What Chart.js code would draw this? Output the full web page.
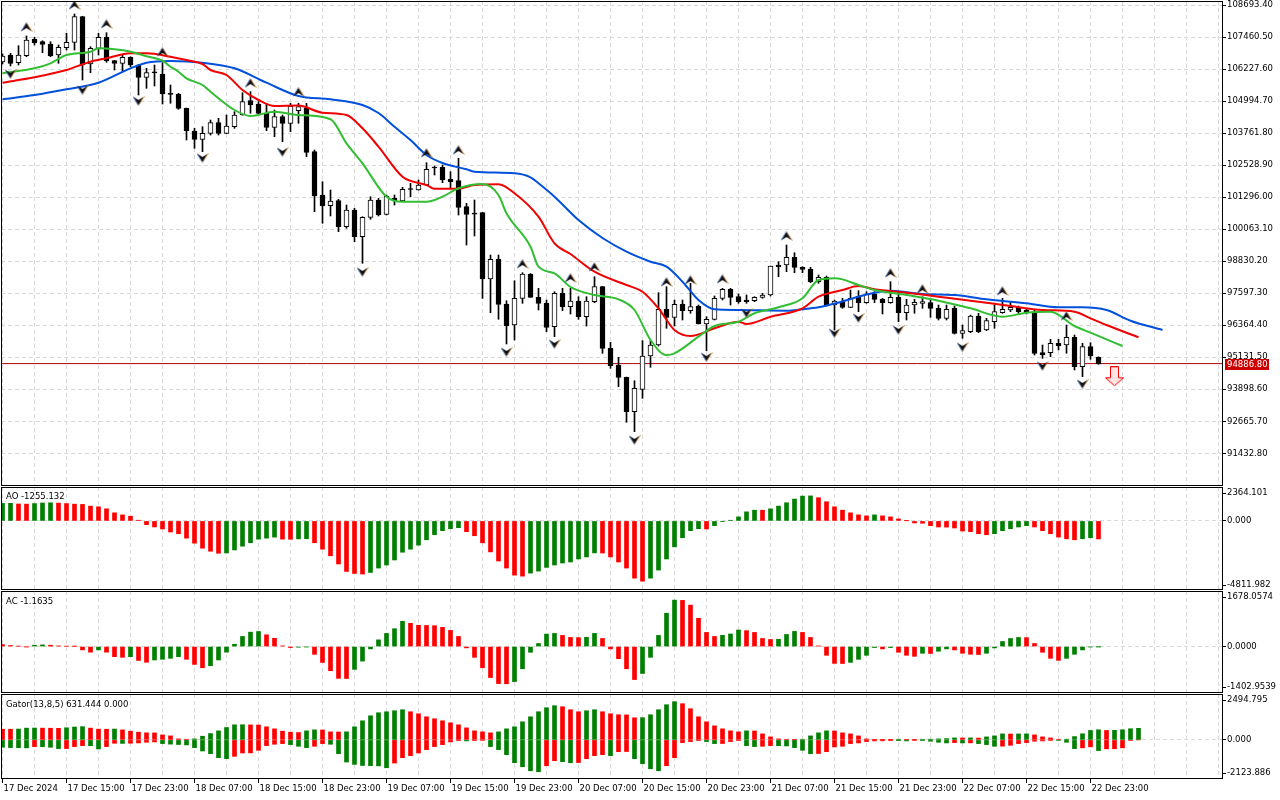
<!DOCTYPE html>
<html>
<head>
<meta charset="utf-8">
<script src="https://cdn.jsdelivr.net/npm/chart.js"></script>
<style>
  body { margin: 0; background: #fff; }
  #wrap { position: relative; width: 1280px; height: 800px; overflow: hidden; background: #fff; }
  canvas { position: absolute; left: 0; }
</style>
</head>
<body>
<div id="wrap">
  <canvas id="main" width="1280" height="486" style="top:0px"></canvas>
  <canvas id="ao" width="1280" height="103" style="top:487px"></canvas>
  <canvas id="ac" width="1280" height="102" style="top:591px"></canvas>
  <canvas id="gator" width="1280" height="106" style="top:694px"></canvas>
</div>
<script>
// BTC H1, 17 Dec 07:00 .. 23 Dec 00:00, one entry per bar
const dateLabels = ['17 Dec 2024', '17 Dec 15:00', '17 Dec 23:00', '18 Dec 07:00', '18 Dec 15:00', '18 Dec 23:00',
  '19 Dec 07:00', '19 Dec 15:00', '19 Dec 23:00', '20 Dec 07:00', '20 Dec 15:00', '20 Dec 23:00',
  '21 Dec 07:00', '21 Dec 15:00', '21 Dec 23:00', '22 Dec 07:00', '22 Dec 15:00', '22 Dec 23:00'];

const priceTicks = [108693.40, 107460.50, 106227.60, 104994.70, 103761.80, 102528.90, 101296.00, 100063.10,
  98830.20, 97597.30, 96364.40, 95131.50, 93898.60, 92665.70, 91432.80];

const candleOpen = [106499,106768,106472,106742,107373,107281,107192,106768,107050,107257,
  108243,106422,107026,107450,106549,106449,106680,106383,105910,106087,
  106037,105255,105255,104716,103842,103523,103754,104162,103754,104008,
  104458,105009,104882,104524,103985,104393,104139,104624,104716,103046,
  101378,100967,101159,100158,100801,99773,100520,101186,100635,101251,
  101147,101598,101571,101763,102445,102445,101983,101929,100928,100647,
  100697,98144,98903,97182,96373,97401,98337,97440,97209,96308,
  97594,97078,97297,96693,97271,97848,95476,94833,94360,93036,
  93898,95180,95603,96978,96670,97170,96924,97105,96412,96593,
  97401,97748,97463,97336,97309,97440,97528,98683,98683,98980,
  98595,98518,98041,98210,97143,97297,97055,97490,97232,97567,
  97363,97232,97440,96847,97143,97209,97232,97016,96631,97016,
  96054,96116,96720,96181,96501,96847,96951,97055,96951,96824,
  95307,95307,95669,95603,95900,94768,95538,95130];

const candleHigh = [106807,106834,107127,107500,107450,107319,107281,107153,107604,108347,
  108260,107088,107604,107627,106560,106768,106703,106395,106256,106383,
  106472,105613,105294,104728,103946,104008,104266,104331,104458,104586,
  105317,105356,104971,104909,104651,104458,104909,104909,104909,103111,
  101891,101571,101213,100993,100866,100543,101313,101251,101378,101378,
  101675,101829,101956,102622,102495,102533,102276,102791,101059,101186,
  100710,99068,99068,97309,98079,98387,98350,97786,97336,97656,
  97786,97786,97463,97463,98233,97860,95707,95130,94370,94229,
  95769,95769,97617,97848,97336,97336,97979,97143,96693,97490,
  97786,97786,97567,97528,97463,97594,98645,98811,99453,99157,
  98620,98595,98298,98260,97336,97401,97721,97694,97656,97656,
  97401,98041,97656,97363,97363,97463,97336,97143,97143,97105,
  96373,96758,96824,96631,97143,97401,97271,97105,96978,96951,
  95603,95823,95823,96373,95988,95669,95692,95150];

const candleLow = [106422,106345,106383,106703,107153,106857,106703,106449,106961,106961,
  105806,106087,106768,106487,106191,106126,106318,105228,105486,105575,
  104882,104909,104678,103496,103176,103046,103688,103688,103740,103946,
  104450,104524,104458,103854,103623,103431,103816,104139,102853,100736,
  100289,100570,99966,100096,99581,98749,100443,100570,100608,100993,
  101121,101313,101565,101755,102148,101852,101636,100608,99453,99800,
  97401,96847,96593,95642,95796,97209,97440,96951,96116,95923,
  96924,96797,96593,96335,97232,95284,94706,93998,92627,92266,
  93551,94745,95565,96246,96335,96566,96824,96412,95384,96566,
  97336,97143,97209,97209,97271,97401,97490,98233,98426,98387,
  98387,98002,97979,97105,96181,97016,97040,96886,97209,97232,
  96797,97209,96501,96566,96824,97016,96670,96566,96566,96027,
  95861,96077,96077,96154,96246,96824,96886,96797,96797,95218,
  95091,95153,95411,95284,94641,94383,95053,94860];

const candleClose = [106730,106449,106768,107346,107242,107180,106730,107065,107257,108243,
  106383,107026,107450,106537,106449,106680,106383,105910,106087,106080,
  105267,105250,104716,103854,103523,103754,104162,103754,104035,104458,
  104971,104843,104524,103985,104393,104139,104805,104778,103022,101340,
  100955,101147,100158,100801,99773,100520,101186,100608,101340,101147,
  101598,101590,101763,102368,102418,101956,101891,100905,100635,100640,
  98144,98903,97170,96335,97401,98337,97440,97209,96285,97594,
  97078,97297,96693,97297,97848,95476,94807,94360,93036,93936,
  95180,95603,96978,96670,97170,96924,97078,96412,96593,97401,
  97748,97440,97271,97271,97440,97528,98645,98618,98980,98595,
  98518,98041,98210,97143,97297,97055,97401,97232,97567,97363,
  97232,97440,96847,97143,97247,97271,97016,96631,96978,96054,
  96154,96720,96116,96539,96886,96978,97055,96886,96847,95284,
  95218,95669,95577,95900,94768,95538,95180,94886.8];

const lastPrice = 94886.80;

// Alligator lines: [bar, price]
const jawLine = [[0,105063],[4,105228],[8,105448],[12,105702],[16,106256],[18,106472],[21,106537],[25,106472],
  [29,106256],[33,105702],[37,105190],[41,105063],[45,104843],[47,104535],[49,104008],[51,103496],[53,102918],
  [55,102610],[58,102368],[59,102276],[64,102214],[66,102060],[67,101829],[69,101313],[72,100416],[75,99723],
  [78,99196],[81,98811],[83,98618],[85,98041],[87,97336],[89,96978],[92,96951],[98,96924],[100,96978],
  [102,97055],[104,97200],[107,97463],[109,97617],[111,97694],[115,97567],[119,97528],[123,97363],[128,97209],
  [132,97055],[135,97055],[138,96951],[141,96539],[145,96181]];
const teethLine = [[0,105702],[4,105910],[8,106191],[11,106511],[13,106641],[16,106834],[18,106834],[21,106703],
  [23,106576],[25,106422],[26,106191],[28,105998],[30,105421],[32,105036],[34,104805],[37,104820],[40,104547],
  [43,104458],[45,103946],[47,103238],[50,102083],[53,101763],[54,101621],[57,101621],[59,101763],[62,101790],
  [64,101444],[67,100543],[69,99519],[71,99107],[74,98426],[78,97913],[80,97656],[82,97016],[84,96181],
  [86,95950],[89,96246],[92,96501],[93,96412],[96,96693],[100,97016],[102,97463],[105,97721],[107,97875],
  [109,97748],[113,97617],[117,97463],[121,97309],[126,97105],[130,96951],[134,96886],[136,96631],[138,96373],
  [142,95900]];
const lipsLine = [[0,106064],[4,106256],[6,106449],[8,106768],[11,106896],[12,107026],[14,106988],[16,106896],
  [18,106720],[20,106549],[21,106318],[22,106126],[23,105871],[25,105614],[26,105356],[29,104651],[31,104420],
  [34,104586],[37,104458],[41,104293],[43,103369],[45,102599],[48,101313],[50,101121],[53,101121],[55,101313],
  [57,101636],[60,101802],[62,101378],[63,100674],[66,99388],[67,98618],[69,98364],[71,97836],[74,97528],
  [77,97363],[79,96951],[81,95796],[83,95218],[84,95284],[87,95923],[89,96335],[92,96501],[94,96824],
  [97,97055],[100,97401],[102,98106],[104,98171],[105,98130],[107,97913],[109,97721],[113,97528],[117,97309],
  [121,97016],[125,96693],[128,96847],[131,96886],[134,96335],[136,96077],[140,95565]];

// Fractal arrows: [bar, price]
const fractalUp = [[3,107846],[9,108693],[13,107962],[20,106884],[31,105690],[37,105344],[53,102995],[57,103111],
  [65,98722],[71,98183],[74,98606],[83,98029],[86,98106],[90,98144],[98,99800],[111,98375],[115,97759],
  [125,97682],[133,96720]];
const fractalDown = [[1,106037],[10,105421],[17,104997],[25,102803],[35,103034],[45,98414],[63,95334],[69,95642],
  [79,91946],[88,95141],[93,96835],[104,96065],[107,96643],[112,96181],[120,95526],[130,94795],[135,94102]];
const sellSignal = [[139,94400]];

const aoValues = [1219,1225,1180,1172,1210,1250,1265,1240,1210,1170,
  1150,1030,985,845,565,420,330,50,-260,-420,
  -560,-770,-890,-1200,-1550,-1900,-2110,-2250,-2230,-2020,
  -1760,-1520,-1270,-1200,-1130,-1270,-1280,-1250,-1240,-1520,
  -1970,-2430,-3000,-3520,-3660,-3700,-3590,-3283,-3072,-2720,
  -2181,-1970,-1688,-1313,-961,-680,-539,-469,-750,-1032,
  -1524,-2157,-2791,-3283,-3776,-3846,-3635,-3494,-3236,-3072,
  -2931,-2861,-2650,-2509,-2228,-2235,-2509,-2861,-3283,-3987,
  -4198,-3987,-3424,-2650,-1806,-1173,-680,-539,-560,-328,
  -47,47,281,633,750,745,844,1032,1266,1524,
  1730,1745,1618,1337,985,750,563,422,352,422,
  352,281,141,10,-140,-160,-328,-422,-430,-492,
  -703,-750,-891,-961,-891,-680,-539,-422,-328,-422,
  -680,-891,-1126,-1243,-1313,-1243,-1173,-1255.132];

const acValues = [60,30,10,-5,40,50,40,20,10,5,
  -100,-170,-100,-170,-305,-325,-305,-420,-475,-405,
  -385,-355,-305,-385,-540,-640,-580,-405,-170,70,
  305,435,455,355,250,20,-30,-20,-10,-235,
  -480,-730,-960,-965,-690,-440,-70,203,397,539,
  763,702,641,636,630,580,488,305,-40,-325,
  -641,-936,-1119,-1125,-1058,-671,-173,92,376,397,
  336,275,270,280,397,244,-71,-366,-671,-997,
  -814,-325,336,1007,1403,1395,1251,854,427,305,
  340,380,500,480,427,244,214,220,366,458,
  427,275,20,-264,-508,-512,-478,-386,-264,-30,
  -71,-30,-173,-264,-295,-203,-210,-142,-71,-102,
  -203,-234,-240,-203,-41,153,244,275,270,92,
  -173,-356,-417,-356,-234,-102,-10,-1.1635];

const gatorUpper = [583,580,590,640,645,640,635,630,660,700,
  720,640,585,580,590,545,475,420,385,380,
  273,219,55,36,55,200,346,492,674,820,
  825,815,810,711,601,474,419,401,492,547,
  540,437,430,440,711,1039,1312,1476,1530,1585,
  1640,1530,1421,1257,1148,1039,929,820,656,492,
  437,383,437,601,711,984,1257,1530,1749,1858,
  1804,1640,1530,1585,1640,1530,1421,1367,1360,1203,
  1210,1367,1640,1913,2077,1968,1694,1257,984,765,
  601,492,437,492,485,328,164,55,36,18,
  36,219,383,492,485,383,328,219,55,18,
  15,10,36,18,15,36,40,55,73,109,
  105,110,100,164,219,328,320,325,330,273,
  164,109,36,40,182,334,514,552,514,520,
  552,607,631.444];

const gatorLower = [-401,-419,-425,-432,-364,-370,-401,-474,-470,-364,
  -310,-315,-492,-364,-182,-190,-180,-164,-128,-109,
  -200,-230,-250,-273,-419,-601,-747,-966,-1020,-893,
  -711,-705,-565,-310,-237,-200,-255,-346,-419,-346,
  -200,-237,-747,-1203,-1330,-1390,-1400,-1410,-1512,-1257,
  -966,-856,-711,-528,-364,-255,-109,-36,-55,-36,
  -30,-364,-528,-802,-1239,-1458,-1676,-1731,-1403,-1130,
  -1184,-1239,-1230,-1020,-856,-802,-856,-638,-630,-1020,
  -1294,-1567,-1676,-1403,-966,-146,-91,-36,-91,-200,
  -195,-91,-36,-310,-364,-346,-310,-315,-328,-419,
  -565,-747,-740,-638,-383,-346,-200,-164,-91,-55,
  -50,-36,-40,-55,-20,-36,-73,-128,-164,-146,
  -164,-160,-200,-255,-346,-340,-292,-200,-146,-73,
  -55,-18,-25,-128,-474,-432,-377,-580,-486,-480,
  -432,-15,0];

const aoRange = [-4811.982, 2364.101];
const acRange = [-1402.9539, 1678.0574];
const gatorRange = [-2123.886, 2494.795];
const aoTickText = ['2364.101', '0.000', '-4811.982'];
const acTickText = ['1678.0574', '0.0000', '-1402.9539'];
const gatorTickText = ['2494.795', '0.000', '-2123.886'];

// ---- styling ----
const GREEN = '#008000', RED = '#ff0000', GRID = '#d9d9d9';
const FONT = { family: 'DejaVu Sans', size: 8.5 };
const X_MIN = -0.1875, X_MAX = 152.5625;   // 8 px per bar
const AXIS_W = 57;

Chart.defaults.font.family = FONT.family;
Chart.defaults.font.size = FONT.size;
Chart.defaults.color = '#000';

function isLabelTick(v) { return v % 8 === 0 && v / 8 < dateLabels.length; }

function xAxis(withDates) {
  return {
    type: 'linear', min: X_MIN, max: X_MAX, offset: false,
    afterBuildTicks: s => { const t = []; for (let v = 0; v <= 152; v += 4) t.push({ value: v }); s.ticks = t; },
    afterFit: s => { s.height = withDates ? 21 : 0; s.paddingLeft = 0; s.paddingRight = 0; },
    grid: { offset: false, color: GRID, drawTicks: withDates, tickLength: 4, tickWidth: 1, tickBorderDash: [],
      tickColor: c => (c.tick && isLabelTick(c.tick.value)) ? '#000' : 'rgba(0,0,0,0)' },
    border: { display: false, dash: [4, 3] },
    ticks: { display: withDates, autoSkip: false, maxRotation: 0, minRotation: 0, align: 'start', labelOffset: 1,
      padding: 1, color: '#000', font: FONT, callback: v => isLabelTick(v) ? dateLabels[v / 8] : '' }
  };
}

function yAxis(min, max, build, label, zeroOnly) {
  return {
    position: 'right', min, max, beginAtZero: false,
    // fixed axis width, and no extra room reserved for the end labels
    afterFit: s => { s.width = AXIS_W; s.paddingTop = 0; s.paddingBottom = 0; },
    afterBuildTicks: build,
    grid: { color: zeroOnly ? (c => (c.tick && c.tick.value === 0) ? GRID : 'rgba(0,0,0,0)') : GRID,
      tickLength: 3, tickWidth: 1, tickColor: '#000', tickBorderDash: [] },
    border: { display: false, dash: [4, 3] },
    ticks: { autoSkip: false, padding: 1, color: '#000', font: FONT, callback: label }
  };
}

// top, zero and bottom labels kept inside the pane like the terminal does
function edgeTicks(paneH, topPx, botPx) {
  return s => {
    const span = s.max - s.min;
    s.ticks = [{ value: s.max - span * topPx / paneH }, { value: 0 }, { value: s.max - span * botPx / paneH }];
  };
}

const paneFrame = {
  id: 'paneFrame',
  afterDraw(chart, args, opts) {
    const a = chart.chartArea, g = chart.ctx;
    g.save();
    g.strokeStyle = '#000';
    g.lineWidth = 1;
    g.strokeRect(a.left + 0.5, a.top + 0.5, a.right - a.left - 1, a.bottom - a.top - 1);
    if (opts.title) {
      g.fillStyle = '#000';
      g.font = FONT.size + 'px "' + FONT.family + '"';
      g.textBaseline = 'middle';
      g.fillText(opts.title, a.left + 5, a.top + opts.titleY);
    }
    g.restore();
  }
};

const priceTag = {
  id: 'priceTag',
  afterDraw(chart) {
    const y = Math.round(chart.scales.y.getPixelForValue(lastPrice));
    const x = chart.chartArea.right + 2;
    const g = chart.ctx;
    g.save();
    g.fillStyle = '#cc0000';
    g.fillRect(x, y - 5, 44, 11);
    g.fillStyle = '#fff';
    g.font = FONT.size + 'px "' + FONT.family + '"';
    g.textBaseline = 'middle';
    g.fillText(lastPrice.toFixed(2), x + 2, y + 0.5);
    g.restore();
  }
};

function fractalIcon(up) {
  const c = document.createElement('canvas');
  c.width = 12; c.height = 10;
  const g = c.getContext('2d');
  if (!up) { g.translate(0, 10); g.scale(1, -1); }
  g.beginPath();
  g.moveTo(6, 0.5); g.lineTo(11.5, 9.5); g.lineTo(6, 6); g.lineTo(0.5, 9.5); g.closePath();
  g.fillStyle = '#111'; g.fill();
  g.lineWidth = 1;
  g.strokeStyle = 'rgba(70,110,200,0.75)';
  g.beginPath(); g.moveTo(6, 0.5); g.lineTo(0.5, 9.5); g.stroke();
  g.strokeStyle = 'rgba(225,150,70,0.75)';
  g.beginPath(); g.moveTo(6, 0.5); g.lineTo(11.5, 9.5); g.stroke();
  return c;
}

function sellIcon() {
  const c = document.createElement('canvas');
  c.width = 19; c.height = 20;
  const g = c.getContext('2d');
  g.beginPath();
  g.moveTo(5.5, 0.5); g.lineTo(13.5, 0.5); g.lineTo(13.5, 11.5); g.lineTo(18.5, 11.5);
  g.lineTo(9.5, 19.5); g.lineTo(0.5, 11.5); g.lineTo(5.5, 11.5); g.closePath();
  g.fillStyle = '#ffe4e4'; g.fill();
  g.strokeStyle = '#ff0000'; g.lineWidth = 1; g.stroke();
  return c;
}

const pts = arr => arr.map(([x, y]) => ({ x, y }));
const bars = candleOpen.map((_, i) => i);
const baseOptions = () => ({
  responsive: false, animation: false, devicePixelRatio: 1, events: [],
  plugins: { legend: { display: false }, tooltip: { enabled: false } }
});

// ---- price pane ----
const mainOpts = baseOptions();
mainOpts.layout = { autoPadding: false, padding: { top: 1, left: 1, right: 0, bottom: 0 } };
mainOpts.plugins.paneFrame = {};
mainOpts.scales = {
  x: xAxis(false),
  y: yAxis(90175, 108847.5, s => { s.ticks = priceTicks.map(v => ({ value: v })); }, v => v.toFixed(2), false)
};

new Chart(document.getElementById('main'), {
  type: 'bar',
  data: {
    datasets: [
      { type: 'scatter', data: pts(sellSignal), pointStyle: sellIcon(), pointRadius: 9, order: 0 },
      { type: 'scatter', data: pts(fractalUp), pointStyle: fractalIcon(true), pointRadius: 5, order: 1 },
      { type: 'scatter', data: pts(fractalDown), pointStyle: fractalIcon(false), pointRadius: 5, order: 1 },
      { type: 'line', data: pts(lipsLine), borderColor: '#32be32', borderWidth: 2, pointRadius: 0,
        cubicInterpolationMode: 'monotone', order: 2 },
      { type: 'line', data: pts(teethLine), borderColor: '#f00000', borderWidth: 2, pointRadius: 0,
        cubicInterpolationMode: 'monotone', order: 2 },
      { type: 'line', data: pts(jawLine), borderColor: '#0050dc', borderWidth: 2, pointRadius: 0,
        cubicInterpolationMode: 'monotone', order: 2 },
      { type: 'bar', data: bars.map(i => ({ x: i, y: [candleOpen[i], candleClose[i]] })),
        backgroundColor: c => candleClose[c.dataIndex] >= candleOpen[c.dataIndex] ? '#fff' : '#000',
        borderColor: '#000', borderWidth: 1, borderSkipped: false, barThickness: 5, minBarLength: 1,
        grouped: false, order: 3 },
      { type: 'bar', data: bars.map(i => ({ x: i, y: [candleLow[i], candleHigh[i]] })),
        backgroundColor: '#000', borderWidth: 0, barThickness: 1, grouped: false, order: 4 },
      { type: 'line', data: [{ x: X_MIN, y: lastPrice }, { x: X_MAX, y: lastPrice }],
        borderColor: '#b00000', borderWidth: 1, pointRadius: 0, order: 5 }
    ]
  },
  options: mainOpts,
  plugins: [paneFrame, priceTag]
});

// ---- indicator panes ----
const risingColor = (values, first) => c => {
  const i = c.dataIndex;
  return i === 0 ? first : (values[i] > values[i - 1] ? GREEN : RED);
};
const growingColor = (values, first) => c => {
  const i = c.dataIndex;
  return i === 0 ? first : (Math.abs(values[i]) > Math.abs(values[i - 1]) ? GREEN : RED);
};
const histSet = (values, color) => ({
  data: values.map((v, i) => ({ x: i, y: v })), backgroundColor: color,
  borderWidth: 0, barThickness: 4, grouped: false
});

function indicatorChart(id, datasets, range, tickText, title, titleY, paneH, botPx, withDates) {
  const o = baseOptions();
  o.layout = { autoPadding: false, padding: { top: 0, left: 1, right: 0, bottom: 0 } };
  o.plugins.paneFrame = { title, titleY };
  o.scales = {
    x: xAxis(withDates),
    y: yAxis(range[0], range[1], edgeTicks(paneH, 6, botPx), (v, i) => tickText[i], true)
  };
  return new Chart(document.getElementById(id), { type: 'bar', data: { datasets }, options: o, plugins: [paneFrame] });
}

indicatorChart('ao', [histSet(aoValues, risingColor(aoValues, GREEN))],
  aoRange, aoTickText, 'AO -1255.132', 10, 103, 98, false);
indicatorChart('ac', [histSet(acValues, risingColor(acValues, RED))],
  acRange, acTickText, 'AC -1.1635', 11, 102, 96, false);
indicatorChart('gator', [histSet(gatorUpper, growingColor(gatorUpper, RED)), histSet(gatorLower, growingColor(gatorLower, GREEN))],
  gatorRange, gatorTickText, 'Gator(13,8,5) 631.444 0.000', 11, 85, 79, true);
</script>
</body>
</html>
